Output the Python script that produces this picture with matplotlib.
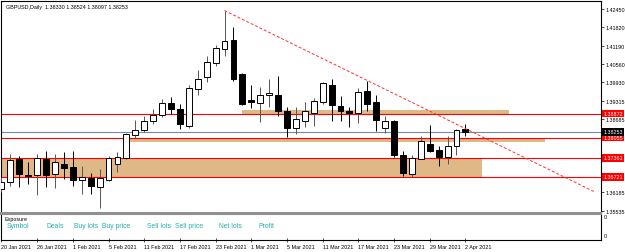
import matplotlib
matplotlib.use("Agg")
import matplotlib.pyplot as plt
import matplotlib.transforms as mtransforms
from matplotlib.patches import Rectangle

plt.rcParams['font.family'] = ['Liberation Sans', 'DejaVu Sans']

# ---- data -------------------------------------------------------------
dates = ["20 Jan", "21 Jan", "22 Jan", "25 Jan", "26 Jan", "27 Jan", "28 Jan", "29 Jan",
         "1 Feb", "2 Feb", "3 Feb", "4 Feb", "5 Feb", "8 Feb", "9 Feb", "10 Feb", "11 Feb", "12 Feb",
         "15 Feb", "16 Feb", "17 Feb", "18 Feb", "19 Feb", "22 Feb", "23 Feb", "24 Feb", "25 Feb", "26 Feb",
         "1 Mar", "2 Mar", "3 Mar", "4 Mar", "5 Mar", "8 Mar", "9 Mar", "10 Mar", "11 Mar", "12 Mar",
         "15 Mar", "16 Mar", "17 Mar", "18 Mar", "19 Mar", "22 Mar", "23 Mar", "24 Mar", "25 Mar", "26 Mar",
         "29 Mar", "30 Mar", "31 Mar", "1 Apr", "2 Apr"]
opens = [1.3629, 1.3653, 1.3731, 1.3678, 1.3677, 1.3731, 1.3680, 1.3714,
         1.3704, 1.3660, 1.3666, 1.3636, 1.3660, 1.3714, 1.3735, 1.3814, 1.3831, 1.3862,
         1.3882, 1.3923, 1.3903, 1.3844, 1.3971, 1.4012, 1.4060, 1.4108, 1.4139, 1.4022,
         1.3932, 1.3923, 1.3950, 1.3950, 1.3896, 1.3838, 1.3862, 1.3889, 1.3927, 1.3985,
         1.3913, 1.3896, 1.3889, 1.3964, 1.3927, 1.3838, 1.3862, 1.3745, 1.3680, 1.3731,
         1.3783, 1.3762, 1.3738, 1.3776, 1.38330]
highs = [1.3670, 1.3749, 1.3742, 1.3721, 1.3749, 1.3759, 1.3749, 1.3755,
         1.3759, 1.3707, 1.3683, 1.3697, 1.3742, 1.3755, 1.3820, 1.3865, 1.3879, 1.3903,
         1.3937, 1.3944, 1.3920, 1.3985, 1.4036, 1.4084, 1.4122, 1.4238, 1.4183, 1.4026,
         1.3985, 1.3978, 1.4005, 1.4016, 1.3910, 1.3910, 1.3927, 1.3940, 1.3995, 1.4005,
         1.3947, 1.3910, 1.3975, 1.3999, 1.3951, 1.3879, 1.3865, 1.3759, 1.3745, 1.3810,
         1.3848, 1.3776, 1.3810, 1.3834, 1.38524]
lows = [1.3620, 1.3642, 1.3636, 1.3646, 1.3608, 1.3636, 1.3632, 1.3663,
        1.3642, 1.3612, 1.3612, 1.3564, 1.3656, 1.3687, 1.3731, 1.3803, 1.3824, 1.3851,
        1.3875, 1.3886, 1.3834, 1.3838, 1.3951, 1.3995, 1.4050, 1.4084, 1.3999, 1.3916,
        1.3906, 1.3858, 1.3910, 1.3879, 1.3807, 1.3817, 1.3841, 1.3844, 1.3920, 1.3862,
        1.3862, 1.3841, 1.3855, 1.3896, 1.3827, 1.3820, 1.3738, 1.3673, 1.3670, 1.3731,
        1.3755, 1.3707, 1.3714, 1.3745, 1.38097]
closes = [1.3653, 1.3728, 1.3680, 1.3675, 1.3735, 1.3677, 1.3721, 1.3701,
          1.3660, 1.3670, 1.3639, 1.3666, 1.3735, 1.3738, 1.3817, 1.3831, 1.3862, 1.3882,
          1.3923, 1.3903, 1.3851, 1.3974, 1.4005, 1.4064, 1.4112, 1.4135, 1.4005, 1.3920,
          1.3925, 1.3950, 1.3956, 1.3896, 1.3838, 1.3868, 1.3896, 1.3930, 1.3992, 1.3916,
          1.3896, 1.3889, 1.3961, 1.3920, 1.3865, 1.3862, 1.3745, 1.3684, 1.3735, 1.3793,
          1.3759, 1.3738, 1.3776, 1.3831, 1.38253]

title = "GBPUSD,Daily  1.38330 1.38524 1.38097 1.38253"
axis_ticks = [1.42450, 1.41820, 1.41190, 1.40560, 1.39930, 1.39315, 1.38685, 1.36185, 1.35535]
axis_tick_labels = ["1.42450", "1.41820", "1.41190", "1.40560", "1.39930", "1.39315", "1.38685",
                    "1.36185", "1.35535"]
red_levels = [1.38872, 1.38055, 1.37361, 1.36721]
current_price = 1.38253
# zones: (start bar, end bar, low price, high price)
zone_start = [-2.0, 27.0, 14.4]
zone_end = [53.9, 56.9, 60.9]
zone_low = [1.36721, 1.38872, 1.37896]
zone_high = [1.37361, 1.38992, 1.38055]
trend_x = [25.0, 66.6]
trend_y = [1.42381, 1.36185]
date_tick_idx = [0, 4, 8, 12, 16, 20, 24, 28, 32, 36, 40, 44, 48, 52]
date_tick_labels = ["20 Jan 2021", "26 Jan 2021", "1 Feb 2021", "5 Feb 2021", "11 Feb 2021",
                    "17 Feb 2021", "23 Feb 2021", "1 Mar 2021", "5 Mar 2021", "11 Mar 2021",
                    "17 Mar 2021", "23 Mar 2021", "29 Mar 2021", "2 Apr 2021"]
exposure_cols = ["Symbol", "Deals", "Buy lots", "Buy price", "Sell lots", "Sell price",
                 "Net lots", "Profit"]
exposure_col_x = [7, 46, 74, 102, 147, 175, 219, 258]

# ---- figure -----------------------------------------------------------
W, H = 625, 253
fig = plt.figure(figsize=(W / 100, H / 100), dpi=100)
fig.patch.set_facecolor("white")

def frac(x0, y0, x1, y1):
    return [x0 / W, 1 - y1 / H, (x1 - x0) / W, (y1 - y0) / H]

ax = fig.add_axes(frac(1.5, 1.5, 601, 213.5))
lax = fig.add_axes(frac(1.5, 214.5, 601, 240.5))

xmin, xmax = 0.0, 67.2
ax.set_xlim(xmin, xmax)
ax.set_ylim(1.35500, 1.42724)

FS = 3.9
# zones
for s, e, lo, hi in zip(zone_start, zone_end, zone_low, zone_high):
    ax.add_patch(Rectangle((s, lo), e - s, hi - lo, facecolor="#DEB887",
                           edgecolor="none", zorder=1))
# red levels
for lv in red_levels:
    ax.axhline(lv, color="#FF0000", lw=0.8, zorder=2)
ax.axhline(current_price, color="#778899", lw=0.8, zorder=2)

# candles
width = 0.66
for i, (o, h, l, c) in enumerate(zip(opens, highs, lows, closes)):
    bull = c >= o
    wick_col = "#555555" if bull else "black"
    ax.vlines(i, l, h, color=wick_col, lw=0.7, zorder=3)
    bot = min(o, c)
    ht = max(abs(c - o), 0.00003)
    ax.bar(i, ht, width, bottom=bot, facecolor="white" if bull else "black",
           edgecolor="black", lw=0.7, zorder=4)

# trend line
ax.plot(trend_x, trend_y, color="#FF3030", lw=0.7, ls=(0, (3, 2)), zorder=5)

# axes styling
ax.set_xticks([])
ax.yaxis.tick_right()
ax.set_yticks(axis_ticks)
ax.set_yticklabels(axis_tick_labels)
ax.tick_params(axis="y", length=2, width=0.5, pad=1.5, labelsize=FS, colors="black")
for sp in ["left", "right", "top"]:
    ax.spines[sp].set_linewidth(0.8)
    ax.spines[sp].set_color("black")
ax.spines["bottom"].set_color("#909090")
ax.spines["bottom"].set_linewidth(1.5)

# price labels on the right axis
trans = mtransforms.blended_transform_factory(ax.transAxes, ax.transData)
for lv in red_levels:
    ax.text(1.004, lv, f"{lv:.5f}", transform=trans, fontsize=FS, color="white",
            va="center", ha="left", clip_on=False, zorder=10,
            bbox=dict(boxstyle="square,pad=0.25", facecolor="#FF0000", edgecolor="none"))
ax.text(1.004, current_price, f"{current_price:.5f}", transform=trans, fontsize=FS,
        color="white", va="center", ha="left", clip_on=False, zorder=10,
        bbox=dict(boxstyle="square,pad=0.25", facecolor="black", edgecolor="none"))

ax.text(4 / 599, 1 - 6 / 212, title, transform=ax.transAxes, fontsize=FS,
        va="center", ha="left", color="black")

# lower panel
lax.set_xlim(xmin, xmax)
lax.set_ylim(0, 1)
lax.set_yticks([])
lax.set_xticks(date_tick_idx)
lax.set_xticklabels(date_tick_labels, ha="left")
lax.tick_params(axis="x", length=3, width=0.5, pad=1.5, labelsize=FS, direction="inout")
for sp in ["left", "right", "bottom"]:
    lax.spines[sp].set_linewidth(0.8)
    lax.spines[sp].set_color("black")
lax.spines["top"].set_color("#909090")
lax.spines["top"].set_linewidth(1.5)
for t in lax.get_xticklabels():
    t.set_horizontalalignment("left")

lax.text(3 / 599, 1 - 5.5 / 26, "Exposure", transform=lax.transAxes, fontsize=FS,
         va="center", ha="left", color="black")
for name, px in zip(exposure_cols, exposure_col_x):
    lax.text((px - 1.5) / 599, 1 - 12.5 / 26, name, transform=lax.transAxes, fontsize=4.9,
             va="center", ha="left", color="#20B2AA")
lax.text(1.005, 1 - 3.5 / 26, "0", transform=lax.transAxes, fontsize=FS, va="center", ha="left")
lax.text(1.005, 1 - 22.5 / 26, "0", transform=lax.transAxes, fontsize=FS, va="center", ha="left")

fig.savefig("out.png", dpi=100, facecolor="white")
